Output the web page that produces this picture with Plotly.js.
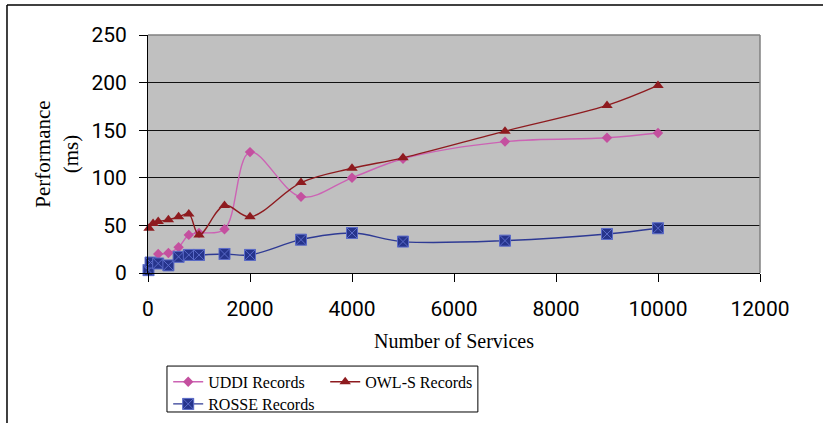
<!DOCTYPE html>
<html>
<head>
<meta charset="utf-8">
<script src="https://cdn.plot.ly/plotly-3.0.1.min.js"></script>
<style>html,body{margin:0;padding:0;background:#fff;}#chart{width:823px;height:423px;}</style>
</head>
<body>
<div id="chart"></div>
<script>
// Data
const seriesNames = ["UDDI Records", "OWL-S Records", "ROSSE Records"];
const uddiX = [200, 400, 600, 800, 1000, 1500, 2000, 3000, 4000, 5000, 7000, 9000, 10000];
const uddiY = [20, 21, 27, 40, 42, 46, 127, 80, 100, 120, 138, 142, 147];
const owlsX = [20, 100, 200, 400, 600, 800, 1000, 1500, 2000, 3000, 4000, 5000, 7000, 9000, 10000];
const owlsY = [47, 52, 54, 56, 59, 62, 40, 71, 59, 95, 110, 121, 149, 176, 197];
const rosseX = [10, 50, 200, 400, 600, 800, 1000, 1500, 2000, 3000, 4000, 5000, 7000, 9000, 10000];
const rosseY = [3, 11, 10, 8, 17, 19, 19, 20, 19, 35, 42, 33, 34, 41, 47];
const xTickVals = [0, 2000, 4000, 6000, 8000, 10000, 12000];
const yTickVals = [0, 50, 100, 150, 200, 250];

const traces = [
  {x: uddiX, y: uddiY, name: seriesNames[0], type: 'scatter', mode: 'lines+markers',
   line: {color: '#CC63B4', width: 1.4, shape: 'spline', smoothing: 1},
   marker: {symbol: 'diamond', size: 8, color: '#C4509F'}, cliponaxis: false, legend: 'legend'},
  {x: owlsX, y: owlsY, name: seriesNames[1], type: 'scatter', mode: 'lines+markers',
   line: {color: '#8E1B1F', width: 1.4, shape: 'spline', smoothing: 1},
   marker: {symbol: 'triangle-up', size: 10, color: '#8E1B1F'}, cliponaxis: false, legend: 'legend'},
  {x: rosseX, y: rosseY, name: seriesNames[2], type: 'scatter', mode: 'lines+markers',
   line: {color: '#2E3A94', width: 1.4, shape: 'spline', smoothing: 1},
   marker: {symbol: 'square-x', size: 11, color: '#26348C', line: {color: '#5A6AC8', width: 1}},
   cliponaxis: false, legend: 'legend2'}
];

const tickFont = {family: 'Roboto, sans-serif', size: 21, color: '#000'};
const serif = 'Liberation Serif, Times New Roman, serif';

const layout = {
  width: 823, height: 423,
  margin: {l: 148, r: 63, t: 35, b: 150, autoexpand: false},
  paper_bgcolor: '#ffffff',
  plot_bgcolor: '#c0c0c0',
  showlegend: true,
  xaxis: {
    range: [0, 12000], tickvals: xTickVals, ticktext: xTickVals.map(String), automargin: false,
    showgrid: false, zeroline: false, showline: true, linecolor: '#000', linewidth: 1,
    ticks: 'outside', ticklen: 8, tickcolor: '#000', tickfont: tickFont, ticklabelstandoff: 9,
    title: {text: 'Number of Services', font: {family: serif, size: 20, color: '#000'}, standoff: 13}
  },
  yaxis: {
    range: [0, 250], tickvals: yTickVals, ticktext: yTickVals.map(String), automargin: false,
    showgrid: true, gridcolor: '#111', gridwidth: 1, zeroline: false,
    showline: true, linecolor: '#000', linewidth: 1,
    ticks: 'outside', ticklen: 8, tickcolor: '#000', tickfont: tickFont, ticklabelstandoff: 8,
    title: {text: 'Performance<br>(ms)', font: {family: serif, size: 21, color: '#000'}, standoff: 7}
  },
  legend: {
    orientation: 'h', x: 0.033, xanchor: 'left', y: -0.386, yanchor: 'top',
    entrywidth: 112, entrywidthmode: 'pixels',
    font: {family: serif, size: 16, color: '#000'}, bgcolor: 'rgba(0,0,0,0)', borderwidth: 0
  },
  legend2: {
    orientation: 'h', x: 0.033, xanchor: 'left', y: -0.479, yanchor: 'top',
    font: {family: serif, size: 16, color: '#000'}, bgcolor: 'rgba(0,0,0,0)', borderwidth: 0
  },
  shapes: [
    {type: 'line', xref: 'paper', yref: 'paper', x0: 0, x1: 1, y0: 1, y1: 1, line: {color: '#808080', width: 1.5}, layer: 'above'},
    {type: 'line', xref: 'paper', yref: 'paper', x0: 1, x1: 1, y0: 0, y1: 1, line: {color: '#808080', width: 1.5}, layer: 'above'},
    {type: 'rect', xref: 'paper', yref: 'paper', x0: 0.031, x1: 0.539, y0: -0.584, y1: -0.391, line: {color: '#000', width: 1}, fillcolor: 'rgba(0,0,0,0)'},
    {type: 'line', xref: 'paper', yref: 'paper', x0: -0.2304, x1: 1.11, y0: 1.126, y1: 1.126, line: {color: '#000', width: 1.5}},
    {type: 'line', xref: 'paper', yref: 'paper', x0: -0.2304, x1: -0.2304, y0: 1.126, y1: -0.64, line: {color: '#000', width: 1.5}}
  ]
};

Plotly.newPlot('chart', traces, layout, {displayModeBar: false, staticPlot: true});
</script>
</body>
</html>
